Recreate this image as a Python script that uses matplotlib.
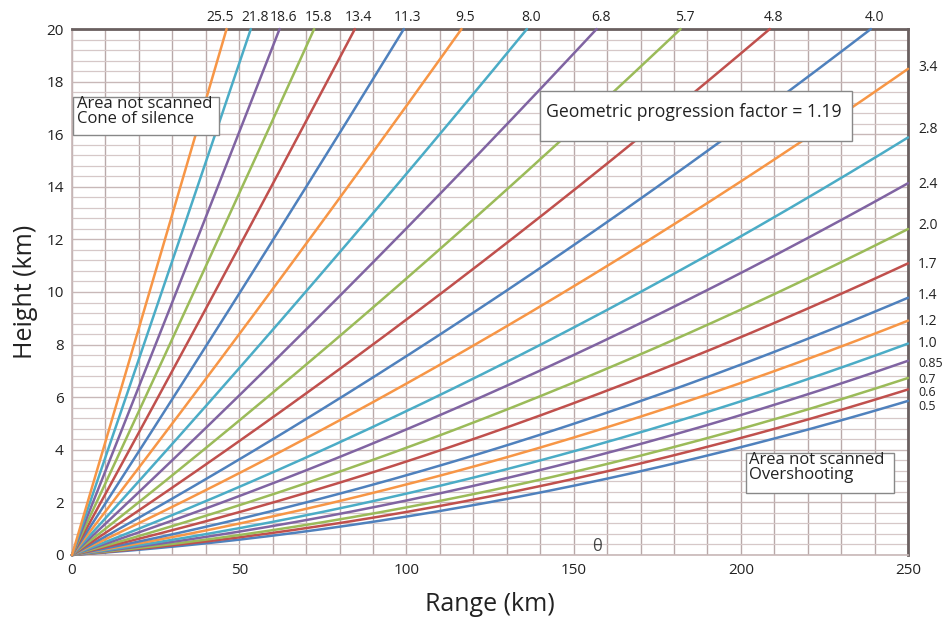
import numpy as np
import matplotlib
matplotlib.use("Agg")
import matplotlib.pyplot as plt
from matplotlib.ticker import MultipleLocator
from matplotlib.patches import Rectangle
from matplotlib.transforms import offset_copy

plt.rcParams['font.family'] = ['Open Sans', 'DejaVu Sans']

# Elevation angles (degrees), lowest to highest
angles = [0.5, 0.6, 0.7, 0.85, 1.0, 1.2, 1.4, 1.7, 2.0, 2.4, 2.8, 3.4,
          4.0, 4.8, 5.7, 6.8, 8.0, 9.5, 11.3, 13.4, 15.8, 18.6, 21.8, 25.5]
angle_labels = ["0.5", "0.6", "0.7", "0.85", "1.0", "1.2", "1.4", "1.7", "2.0", "2.4",
                "2.8", "3.4", "4.0", "4.8", "5.7", "6.8", "8.0", "9.5", "11.3",
                "13.4", "15.8", "18.6", "21.8", "25.5"]
x_ticks = [0, 50, 100, 150, 200, 250]
y_ticks = [0, 2, 4, 6, 8, 10, 12, 14, 16, 18, 20]

# Effective (4/3) earth radius, km
R_eff = 8494.0
max_range = 250.0
max_height = 20.0

palette = ['#4F81BD', '#C0504D', '#9BBB59', '#8064A2', '#4BACC6', '#F79646']

# label heights for the right-hand labels (layout positions, km)
right_label_y = {"0.5": 5.72, "0.6": 6.22, "0.7": 6.74, "0.85": 7.32, "1.0": 8.1,
                 "1.2": 8.97, "1.4": 9.96, "1.7": 11.14, "2.0": 12.59, "2.4": 14.18,
                 "2.8": 16.24, "3.4": 18.63}
small_right = {"0.5", "0.6", "0.7", "0.85"}
# horizontal pixel nudges of the top labels (layout)
top_label_dx = {"25.5": -6}

fig = plt.figure(figsize=(9.44, 6.21), dpi=100)
ax = fig.add_axes([0.0763, 0.1063, 0.9619 - 0.0763, 0.9533 - 0.1063])

ax.set_xlim(0, max_range)
ax.set_ylim(0, max_height)
ax.xaxis.set_major_locator(MultipleLocator(50))
ax.xaxis.set_minor_locator(MultipleLocator(10))
ax.yaxis.set_major_locator(MultipleLocator(2))
ax.yaxis.set_minor_locator(MultipleLocator(0.4))
ax.grid(True, which='minor', axis='y', color='#d6c8c8', lw=0.9)
ax.grid(True, which='major', axis='y', color='#c8b8b8', lw=1.0)
ax.grid(True, which='both', axis='x', color='#b9a9a9', lw=1.0)
ax.set_axisbelow(True)
ax.tick_params(which='both', length=0, labelsize=11, colors='#222222', pad=6)
ax.set_xticks(x_ticks)
ax.set_yticks(y_ticks)

for s in ['left', 'bottom']:
    ax.spines[s].set_color('#c8b8b8')
    ax.spines[s].set_linewidth(1.2)
for s in ['top', 'right']:
    ax.spines[s].set_color('#6a6060')
    ax.spines[s].set_linewidth(2.0)

r = np.linspace(0, max_range, 600)
for i, (th, lab) in enumerate(zip(angles, angle_labels)):
    s = np.sin(np.radians(th))
    r_top = -R_eff * s + np.sqrt((R_eff * s)**2 + 2 * R_eff * max_height + max_height**2)
    if r_top < max_range:
        rr = np.append(r[r < r_top], r_top)
    else:
        rr = r
    hh = np.sqrt(rr**2 + R_eff**2 + 2 * rr * R_eff * s) - R_eff
    col = palette[i % len(palette)]
    ax.plot(rr, hh, color=col, lw=1.8, solid_capstyle='round', clip_on=False, zorder=3)
    if r_top < max_range:
        tr = offset_copy(ax.transData, fig=fig, x=top_label_dx.get(lab, 4) * 0.72,
                         y=3, units='points')
        ax.text(r_top, max_height, lab, ha='center', va='bottom', fontsize=10,
                color='#222222', transform=tr)
    else:
        ax.text(max_range + 3, right_label_y[lab], lab, ha='left', va='center_baseline',
                fontsize=9 if lab in small_right else 10, color='#222222')

def box(x0, x1, y0, y1):
    ax.add_patch(Rectangle((x0, y0), x1 - x0, y1 - y0, fc='white', ec='#888888',
                           lw=1.0, zorder=5))

box(0.3, 44.0, 15.97, 17.41)
ax.text(1.4, 17.45, "Area not scanned\nCone of silence", ha='left', va='top',
        fontsize=12, linespacing=0.9, zorder=6, color='#222222')
box(201.5, 245.8, 2.36, 3.88)
ax.text(202.4, 3.92, "Area not scanned\nOvershooting", ha='left', va='top',
        fontsize=12, linespacing=0.9, zorder=6, color='#222222')
box(140.0, 233.3, 15.74, 17.64)
ax.text(141.7, 16.85, "Geometric progression factor = 1.19", ha='left', va='center',
        fontsize=12.7, zorder=6, color='#222222')
ax.text(157, 0.3, "θ", ha='center', va='center', fontsize=12, color='#444444', zorder=5)

ax.set_xlabel("Range (km)", fontsize=18, color='#222222', labelpad=10)
ax.set_ylabel("Height (km)", fontsize=18, color='#222222', labelpad=6)

fig.savefig("out.png", dpi=100, facecolor='white')
